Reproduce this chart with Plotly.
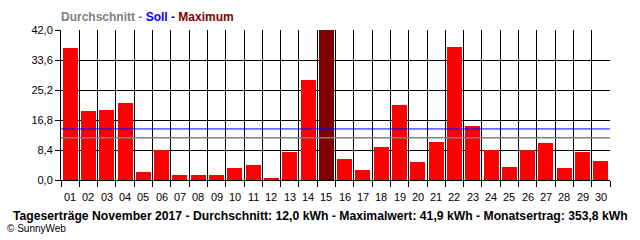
import plotly.graph_objects as go

days = ["01","02","03","04","05","06","07","08","09","10","11","12","13","14","15",
        "16","17","18","19","20","21","22","23","24","25","26","27","28","29","30"]
ertrag = [37.0, 19.4, 19.7, 21.6, 2.3, 8.3, 1.5, 1.5, 1.5, 3.5, 4.3, 0.4, 7.9, 28.1, 41.9,
          6.0, 2.9, 9.3, 21.1, 5.1, 10.7, 37.3, 15.2, 8.3, 3.7, 8.3, 10.4, 3.4, 7.9, 5.4]
durchschnitt = 11.8
soll = 14.3
y_ticks = [0, 8.4, 16.8, 25.2, 33.6, 42.0]

x = list(range(1, len(days) + 1))
bounds = [i + 0.5 for i in range(len(days) + 1)]
mx = max(ertrag)
colors = ["#800000" if v == mx else "#FF0000" for v in ertrag]

fig = go.Figure()
fig.add_trace(go.Bar(x=x, y=ertrag, marker=dict(color=colors, line=dict(width=0)),
                     width=0.82, showlegend=False))
fig.add_trace(go.Scatter(x=[0.5, 30.5], y=[soll, soll], mode="lines",
                         line=dict(color="#0000FF", width=1), showlegend=False))
fig.add_trace(go.Scatter(x=[0.5, 30.5], y=[durchschnitt, durchschnitt], mode="lines",
                         line=dict(color="#808080", width=1.5), showlegend=False))

font = "Liberation Sans, Arial, sans-serif"

day_labels = [dict(xref="x", yref="paper", x=xi, y=0, yshift=-17, xanchor="center",
                   yanchor="middle", showarrow=False, text=d,
                   font=dict(family=font, size=11, color="black"))
              for xi, d in zip(x, days)]

fig.update_layout(
    width=640, height=240,
    margin=dict(l=61, r=30, t=30, b=60),
    paper_bgcolor="white", plot_bgcolor="white",
    separators=",.",
    bargap=0,
    font=dict(family=font, size=11, color="black"),
    xaxis=dict(range=[0.5, 30.5], tickvals=bounds, showticklabels=False, showgrid=True,
               gridcolor="black", gridwidth=1,
               ticks="outside", ticklen=6, tickcolor="black",
               zeroline=False, showline=True, linecolor="black", linewidth=1),
    yaxis=dict(range=[0, 42], tickvals=y_ticks, tickformat=".1f", showgrid=True,
               gridcolor="black", gridwidth=1, zeroline=False, showline=True,
               linecolor="black", linewidth=1, ticks="outside", ticklen=5,
               tickcolor="black", tickfont=dict(size=11), mirror=False),
    annotations=day_labels + [
        dict(xref="paper", yref="paper", x=-0.004, y=1.0, yshift=13, xanchor="left", yanchor="middle",
             showarrow=False, font=dict(family=font, size=12),
             text="<b><span style='color:#808080'>Durchschnitt - </span>"
                  "<span style='color:#0000FF'>Soll - </span>"
                  "<span style='color:#800000'>Maximum</span></b>"),
        dict(xref="paper", yref="paper", x=(320 - 61) / 549, y=0, yshift=-36,
             xanchor="center", yanchor="middle", showarrow=False,
             font=dict(family=font, size=12.2, color="black"),
             text="<b>Tageserträge November 2017 - Durchschnitt: 12,0 kWh - "
                  "Maximalwert: 41,9 kWh - Monatsertrag: 353,8 kWh</b>"),
        dict(xref="paper", yref="paper", x=(5 - 61) / 549, y=0, yshift=-48,
             xanchor="left", yanchor="middle", showarrow=False,
             font=dict(family=font, size=10, color="black"),
             text="© SunnyWeb"),
    ],
)

fig.write_html("out.html")
